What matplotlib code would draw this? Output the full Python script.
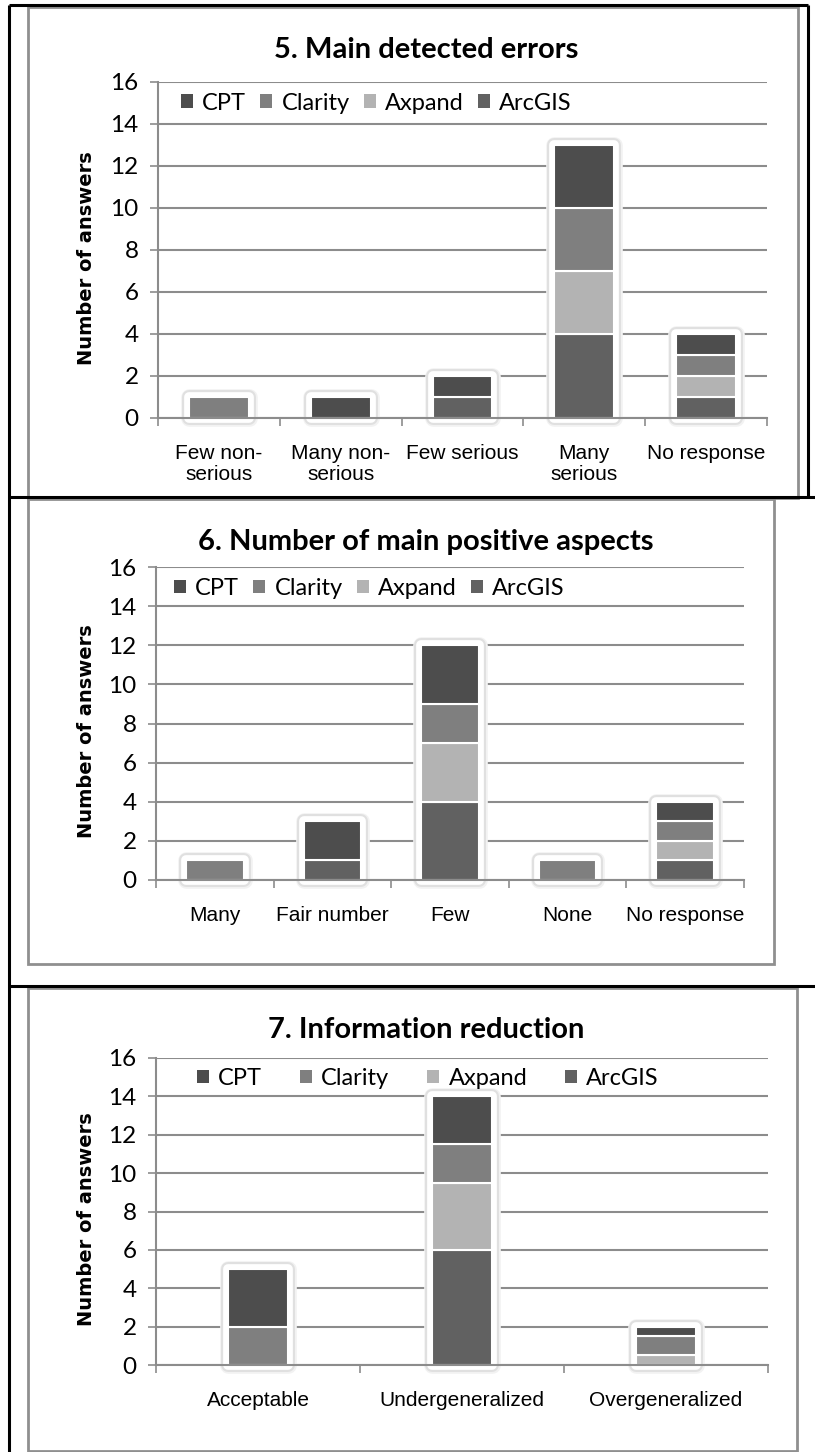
import numpy as np
import matplotlib.pyplot as plt
from matplotlib import patheffects as pe
from matplotlib.lines import Line2D
from matplotlib.patches import Rectangle

W, H = 815, 1452

series = ["CPT", "Clarity", "Axpand", "ArcGIS"]
colors = {"CPT": "#4d4d4d", "Clarity": "#7f7f7f", "Axpand": "#b3b3b3", "ArcGIS": "#616161"}

# 5. Main detected errors
cats5 = ["Few non-\nserious", "Many non-\nserious", "Few serious", "Many\nserious", "No response"]
arcgis5 = [0, 0, 1, 4, 1]
axpand5 = [0, 0, 0, 3, 1]
clarity5 = [1, 0, 0, 3, 1]
cpt5 = [0, 1, 1, 3, 1]

# 6. Number of main positive aspects
cats6 = ["Many", "Fair number", "Few", "None", "No response"]
arcgis6 = [0, 1, 4, 0, 1]
axpand6 = [0, 0, 3, 0, 1]
clarity6 = [1, 0, 2, 1, 1]
cpt6 = [0, 2, 3, 0, 1]

# 7. Information reduction
cats7 = ["Acceptable", "Undergeneralized", "Overgeneralized"]
arcgis7 = [0, 6, 0]
axpand7 = [0, 3.5, 0.5]
clarity7 = [2, 2, 1]
cpt7 = [3, 2.5, 0.5]

yticks = list(range(0, 17, 2))

GRID = "#8c8c8c"
FONT = ["Lato", "DejaVu Sans"]
XFONT = ["Liberation Sans", "DejaVu Sans"]


def fx(x):
    return x / W


def fy(y):
    return 1 - y / H


fig = plt.figure(figsize=(W / 100, H / 100), dpi=100)


def line(x0, y0, x1, y1, color, lw):
    fig.add_artist(Line2D([fx(x0), fx(x1)], [fy(y0), fy(y1)], transform=fig.transFigure,
                          color=color, lw=lw, solid_capstyle="butt"))


def box(x0, y0, x1, y1):
    fig.add_artist(Rectangle((fx(x0), fy(y1)), fx(x1) - fx(x0), fy(y0) - fy(y1),
                             transform=fig.transFigure, fill=False, ec="#8f8f8f", lw=2))


# table lines and panel frames
line(9, 5, 808, 5, "black", 2.2)
line(9, 5, 9, 1452, "black", 2.2)
line(808, 5, 808, 497, "black", 2.2)
line(9, 497, 815, 497, "black", 2.2)
line(9, 986, 815, 986, "black", 2.2)
box(28, 7, 798, 498)
box(28, 499, 774, 964)
box(28, 988, 797, 1451)


def panel(left, right, y0, y16, title, title_y, cats, arcgis, axpand, clarity, cpt,
          barw, leg_x, leg_y, colspace):
    ax = fig.add_axes([fx(left), fy(y0), fx(right) - fx(left), (y0 - y16) / H])
    n = len(cats)
    x = np.arange(n)
    stack = {"ArcGIS": np.array(arcgis, float), "Axpand": np.array(axpand, float),
             "Clarity": np.array(clarity, float), "CPT": np.array(cpt, float)}
    total = sum(stack.values())

    # soft glow behind each stacked bar
    glow = ax.bar(x, total, width=barw, color="white", zorder=1.5, clip_on=False)
    for p in glow:
        p.set_path_effects([pe.Stroke(linewidth=12, foreground="#f2f2f2", joinstyle="round"),
                            pe.Stroke(linewidth=10, foreground="#e0e0e0", joinstyle="round"),
                            pe.Stroke(linewidth=7, foreground="white", joinstyle="round"),
                            pe.Normal()])

    bottom = np.zeros(n)
    for name in ["ArcGIS", "Axpand", "Clarity", "CPT"]:
        vals = stack[name]
        bars = ax.bar(x, vals, width=barw, bottom=bottom, color=colors[name],
                      edgecolor="white", linewidth=1.5, zorder=2)
        for p, v in zip(bars, vals):
            if v == 0:
                p.set_visible(False)
        bottom += vals

    ax.set_xlim(-0.5, n - 0.5)
    ax.set_ylim(0, 16)
    ax.set_yticks(yticks)
    ax.yaxis.grid(True, color=GRID, lw=1.5, zorder=0.5)
    ax.set_axisbelow(True)
    for s in ["top", "right"]:
        ax.spines[s].set_visible(False)
    for s in ["left", "bottom"]:
        ax.spines[s].set_color(GRID)
        ax.spines[s].set_linewidth(1.5)
    ax.tick_params(axis="y", direction="out", length=6, width=1.2, color=GRID, pad=8,
                   labelsize=17.5)
    for t in ax.get_yticklabels():
        t.set_family(FONT)
    ax.set_xticks(np.arange(n + 1) - 0.5)
    ax.set_xticklabels([])
    ax.tick_params(axis="x", which="major", direction="out", length=6, width=1.2, color=GRID)
    ax.set_xticks(x, minor=True)
    ax.set_xticklabels(cats, minor=True, fontsize=15, family=XFONT, linespacing=1.1)
    ax.tick_params(axis="x", which="minor", length=0, pad=19)

    proxies = [Rectangle((0, 0), 1, 1, fc=colors[s], ec="none") for s in series]
    ax.legend(proxies, series, loc="center left",
              bbox_to_anchor=((leg_x - left) / (right - left), leg_y / 16),
              ncol=4, frameon=False, borderpad=0, borderaxespad=0,
              handlelength=0.5, handleheight=0.5, handletextpad=0.4,
              columnspacing=colspace, prop={"family": FONT, "size": 17})

    fig.text(fx(426), fy(title_y), title, ha="center", va="center", fontsize=21,
             fontweight="bold", family=FONT)
    fig.text(fx(87), fy((y0 + y16) / 2 + 8), "Number of answers", rotation=90,
             ha="center", va="center", fontsize=14, fontweight="bold", family="DejaVu Sans")
    return ax


panel(158, 767, 418, 82, "5. Main detected errors", 50, cats5,
      arcgis5, axpand5, clarity5, cpt5, 0.49, 181, 15.0, 0.6)
panel(156, 744, 880, 567, "6. Number of main positive aspects", 542, cats6,
      arcgis6, axpand6, clarity6, cpt6, 0.49, 174, 14.9, 0.6)
panel(156, 768, 1365, 1058, "7. Information reduction", 1030, cats7,
      arcgis7, axpand7, clarity7, cpt7, 0.29, 197, 14.95, 1.6)

fig.savefig("out.png", dpi=100)
